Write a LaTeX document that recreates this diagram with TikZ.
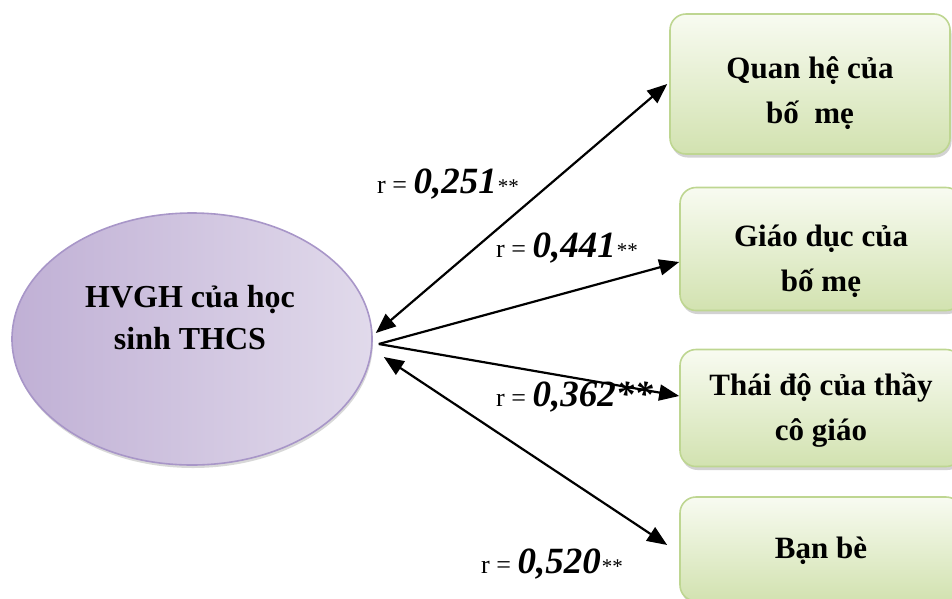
\documentclass[tikz,border=0pt]{standalone}
\usepackage{fontspec}
\setmainfont{Liberation Serif}
\usetikzlibrary{arrows.meta,shapes.geometric,shadows}

\definecolor{boxtop}{RGB}{248,251,241}
\definecolor{boxbottom}{RGB}{210,226,176}
\definecolor{boxline}{RGB}{190,214,145}
\definecolor{hvdark}{RGB}{192,176,213}
\definecolor{hvmid}{RGB}{228,222,238}
\definecolor{hvlight}{RGB}{225,218,235}
\definecolor{hvline}{RGB}{168,150,200}

\newcommand{\rval}[2]{{\fontsize{26}{26}\selectfont r = }{\fontsize{37}{37}\selectfont\bfseries\itshape #1}#2}
\newcommand{\stars}{{\fontsize{21}{21}\selectfont\itshape **}}

\tikzset{
  factor/.style  = {shape=rectangle, rounded corners=16pt, draw=boxline,
                    line width=1.6pt, top color=boxtop, bottom color=boxbottom,
                    inner sep=0pt,
                    drop shadow={shadow xshift=1.5pt, shadow yshift=-3.5pt,
                                 fill=black!35}},
  factortext/.style = {align=center, inner sep=0pt,
                    font=\fontsize{31}{45}\selectfont\bfseries},
  pupil/.style   = {ellipse, draw=hvline, line width=1.6pt,
                    left color=hvdark, middle color=hvmid, right color=hvlight,
                    minimum width=360pt, minimum height=252pt, inner sep=0pt,
                    drop shadow={shadow xshift=1pt, shadow yshift=-3pt,
                                 fill=black!30}},
  pupiltext/.style = {align=center, font=\fontsize{32}{42}\selectfont\bfseries},
  corr/.style    = {anchor=base west, inner sep=0pt},
  link/.style    = {line width=2.2pt, -{Triangle[length=20pt,width=16pt]}},
  both/.style    = {line width=2.2pt, {Triangle[length=20pt,width=16pt]}-{Triangle[length=20pt,width=16pt]}}
}

\begin{document}
\begin{tikzpicture}[x=1pt,y=-1pt]
  \useasboundingbox (0,0) rectangle (952,598);
  \clip (0,0) rectangle (952,598);

  \node[pupil] (hv) at (192,339) {};
  \node[pupiltext] (hvtext) at (190,318) {HVGH của học\\sinh THCS};

  \node[factor, minimum width=280pt, minimum height=140pt,
        label={[factortext,yshift=-9pt]center:Quan hệ của\\bố\ \ mẹ}] (parents) at (810,84) {};
  \node[factor, minimum width=282pt, minimum height=123pt,
        label={[factortext,yshift=-12pt]center:Giáo dục của\\bố mẹ}] (upbring) at (821,249) {};
  \node[factor, minimum width=282pt, minimum height=117pt,
        label={[factortext,yshift=-2pt]center:Thái độ của thầy\\cô giáo}] (teachers) at (821,408) {};
  \node[factor, minimum width=282pt, minimum height=104pt,
        label={[factortext,yshift=-2pt]center:Bạn bè}] (friends) at (821,549) {};

  \draw[both] ([shift={(3pt,6pt)}]hv.east) -- ([xshift=-2pt]parents.west);
  \draw[link] ([shift={(6pt,-5pt)}]hv.east) -- ([yshift=-13pt]upbring.west);
  \draw[link] ([shift={(6pt,-5pt)}]hv.east) -- ([yshift=12pt]teachers.west);
  \draw[both] ([shift={(11pt,-18pt)}]hv.east) -- ([shift={(-12pt,4pt)}]friends.west);

  \node[corr] (r1) at (377,193) {\rval{0,251}{\stars}};
  \node[corr] (r2) at (496,257) {\rval{0,441}{\stars}};
  \node[corr] (r3) at (496,406) {\rval{0,362}{{\fontsize{37}{37}\selectfont\bfseries\itshape **}}};
  \node[corr] (r4) at (481,573) {\rval{0,520}{\stars}};
\end{tikzpicture}
\end{document}
